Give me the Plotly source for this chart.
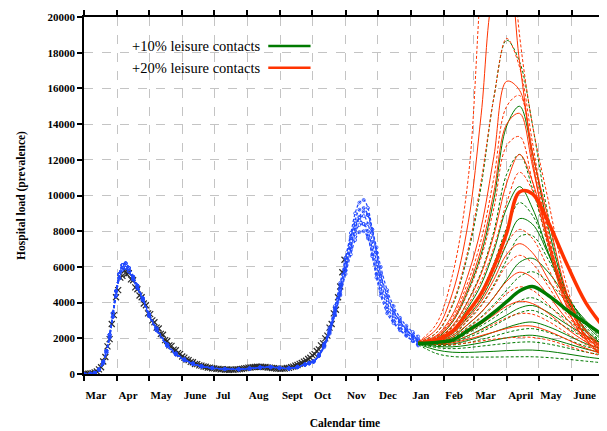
import plotly.graph_objects as go

# ---------------- data ----------------
# days since 1 March 2020
MONTH_TICKS = [0, 31, 61, 92, 122, 153, 184, 214, 245, 275, 306, 337, 365, 396, 426, 457]
MONTH_LABELS = ["Mar", "Apr", "May", "June", "Jul", "Aug", "Sept", "Oct", "Nov", "Dec",
                "Jan", "Feb", "Mar", "April", "May", "June"]
Y_TICKS = [0, 2000, 4000, 6000, 8000, 10000, 12000, 14000, 16000, 18000, 20000]

# observed hospital load (every 2nd day)
BLACK_DAYS = list(range(0, 246, 2))
BLACK_VALS = [0, 10, 15, 30, 45, 90, 140, 260, 380, 700, 950, 1550, 1950, 2800, 3300, 4300,
              4700, 5400, 5500, 5800, 5600, 5650, 5300, 5250, 4850, 4750, 4400, 4300, 3950,
              3850, 3400, 3350, 3000, 2900, 2600, 2550, 2250, 2200, 1900, 1850, 1600, 1580,
              1370, 1330, 1170, 1120, 980, 920, 810, 780, 680, 660, 560, 550, 480, 470, 420,
              405, 360, 355, 320, 315, 290, 290, 260, 270, 245, 250, 235, 245, 240, 255, 255,
              275, 285, 315, 325, 355, 365, 385, 390, 405, 400, 405, 390, 390, 365, 360, 335,
              330, 305, 305, 290, 305, 305, 335, 345, 385, 415, 465, 505, 565, 615, 690, 740,
              840, 910, 1040, 1110, 1290, 1380, 1600, 1720, 2000, 2150, 2600, 2800, 3400, 3600,
              4300, 4900, 5700, 6400]

# model fit ensemble (blue)
BW1_DAYS = [0, 6, 10, 14, 18, 21, 24, 27, 30, 33, 36, 39, 42, 46, 50, 55, 61, 68, 78, 86,
            94, 102, 110, 120, 132, 145, 155, 165, 175, 183, 192, 200, 207, 211]
BW1_HI = [0, 10, 60, 260, 680, 1300, 2200, 3400, 4650, 5600, 6100, 6200, 5950, 5450, 4950,
          4250, 3350, 2550, 1650, 1150, 820, 590, 440, 345, 285, 270, 310, 370, 395, 345, 320,
          400, 540, 620]
BW1_LO = [0, 8, 50, 230, 620, 1200, 2050, 3200, 4400, 5350, 5850, 5950, 5750, 5300, 4800,
          4150, 3250, 2450, 1580, 1100, 780, 560, 420, 330, 270, 255, 295, 350, 375, 330, 305,
          380, 510, 590]
BW2_DAYS = [215, 220, 225, 230, 235, 240, 245, 250, 254, 258, 262, 266, 270, 274, 278, 284,
            290, 296, 302, 308, 313]
BW2 = [
    [700, 1050, 1650, 2500, 3700, 5000, 6500, 7900, 9000, 9600, 9750, 9300, 8100, 6800, 5500, 4300, 3500, 2950, 2500, 2150, 1950],
    [700, 1050, 1600, 2400, 3500, 4700, 6000, 7300, 8200, 8750, 8850, 8400, 7400, 6300, 5200, 4000, 3300, 2850, 2450, 2100, 1850],
    [690, 1020, 1550, 2300, 3300, 4400, 5600, 6700, 7500, 7950, 8000, 7600, 6700, 5600, 4600, 3600, 2950, 2500, 2150, 1850, 1600],
    [700, 1040, 1620, 2450, 3600, 4850, 6250, 7600, 8600, 9200, 9300, 8900, 7900, 6800, 5600, 4400, 3550, 2950, 2500, 2150, 1900],
    [695, 1030, 1580, 2350, 3400, 4550, 5800, 7000, 7850, 8350, 8400, 8000, 7050, 6000, 4900, 3800, 3100, 2650, 2300, 2000, 1750],
    [690, 1000, 1500, 2250, 3300, 4450, 5800, 7100, 8100, 8800, 9100, 8900, 8100, 7100, 6000, 4700, 3800, 3150, 2700, 2350, 2100],
    [710, 1100, 1700, 2600, 3800, 5100, 6500, 7700, 8400, 8600, 8400, 7700, 6600, 5400, 4400, 3400, 2850, 2450, 2150, 1850, 1650],
]

# projections
PROJ_DAYS = [313, 330, 345, 360, 372, 384, 396, 408, 420, 435, 452, 470, 489]
PCTS = [5, 10, 15, 20, 25, 30, 35, 40, 45, 55, 60, 65, 70, 75, 80, 85, 90, 95]
GREEN = [
    [1650, 1150, 980, 950, 945, 950, 958, 965, 965, 920, 830, 720, 610],
    [1680, 1350, 1220, 1210, 1240, 1270, 1310, 1335, 1340, 1270, 1130, 960, 820],
    [1700, 1480, 1420, 1480, 1560, 1640, 1720, 1780, 1795, 1680, 1470, 1230, 1030],
    [1700, 1550, 1520, 1620, 1750, 1890, 2030, 2130, 2170, 2010, 1720, 1400, 1150],
    [1700, 1600, 1620, 1760, 1930, 2120, 2320, 2480, 2540, 2330, 1950, 1550, 1250],
    [1710, 1650, 1680, 1880, 2100, 2350, 2600, 2820, 2910, 2650, 2200, 1700, 1350],
    [1710, 1690, 1760, 2050, 2350, 2700, 3100, 3430, 3560, 3200, 2600, 2000, 1500],
    [1710, 1710, 1800, 2150, 2500, 2900, 3300, 3700, 3840, 3450, 2800, 2150, 1600],
    [1720, 1740, 1850, 2300, 2700, 3150, 3650, 4100, 4270, 3800, 3050, 2350, 1700],
    [1720, 1790, 1980, 2650, 3200, 3900, 4700, 5450, 5730, 5150, 4050, 2950, 2000],
    [1720, 1800, 2050, 2800, 3450, 4300, 5300, 6250, 6480, 5700, 4300, 3000, 1950],
    [1730, 1830, 2150, 3050, 3850, 5000, 6400, 7700, 7750, 6400, 4500, 2900, 1800],
    [1730, 1850, 2250, 3250, 4200, 5600, 7300, 8700, 8400, 6700, 4500, 2800, 1700],
    [1740, 1880, 2350, 3500, 4600, 6200, 8200, 9600, 8900, 6800, 4400, 2650, 1600],
    [1740, 1900, 2450, 3750, 5000, 6900, 9300, 10500, 9300, 6800, 4200, 2500, 1500],
    [1750, 1950, 2650, 4150, 5700, 8000, 11200, 12300, 10400, 7200, 4200, 2400, 1350],
    [1750, 2000, 2900, 4700, 6700, 9800, 13900, 15000, 12400, 8200, 4500, 2400, 1250],
    [1760, 2300, 3800, 6800, 10500, 15500, 18700, 17500, 14000, 8800, 4500, 2200, 1100],
]
GREEN_MED = [1720, 1770, 1900, 2450, 2900, 3450, 4050, 4650, 4900, 4400, 3600, 2850, 2050]
RED = [
    [1750, 1650, 1650, 1750, 1850, 1950, 2020, 2060, 2050, 1900, 1600, 1250, 950],
    [1750, 1700, 1750, 1950, 2150, 2350, 2550, 2680, 2680, 2400, 1950, 1450, 1050],
    [1750, 1720, 1850, 2150, 2450, 2800, 3150, 3380, 3350, 2950, 2300, 1650, 1150],
    [1750, 1750, 1950, 2350, 2800, 3300, 3800, 4070, 3950, 3400, 2550, 1800, 1200],
    [1750, 1780, 2050, 2600, 3150, 3800, 4500, 4880, 4700, 3900, 2850, 1950, 1300],
    [1750, 1800, 2150, 2800, 3450, 4300, 5200, 5700, 5400, 4400, 3100, 2050, 1350],
    [1750, 1830, 2250, 3000, 3800, 4900, 6100, 6650, 6200, 4900, 3350, 2150, 1400],
    [1750, 1850, 2300, 3150, 4050, 5300, 6700, 7300, 6800, 5300, 3550, 2200, 1400],
    [1750, 1870, 2350, 3300, 4250, 5650, 7300, 8100, 7600, 5900, 3900, 2350, 1450],
    [1760, 1950, 2600, 3900, 5200, 7100, 9600, 11300, 10300, 7400, 4500, 2500, 1400],
    [1760, 1980, 2700, 4100, 5600, 7800, 10700, 12300, 10800, 7500, 4400, 2400, 1300],
    [1770, 2050, 2900, 4600, 6500, 9300, 12800, 13300, 10800, 7100, 4000, 2150, 1200],
    [1770, 2080, 3000, 4900, 7000, 10200, 14000, 14600, 11700, 7500, 4100, 2150, 1150],
    [1780, 2100, 3150, 5200, 7500, 11000, 15000, 15600, 12300, 7800, 4200, 2100, 1100],
    [1780, 2150, 3300, 5600, 8200, 12200, 16400, 15900, 12000, 7300, 3800, 1900, 1000],
    [1790, 2300, 3900, 7000, 10800, 15500, 18800, 17200, 13000, 8000, 3900, 1800, 950],
    [1800, 2500, 4500, 8500, 14500, 21500, 23000, 17500, 12500, 8700, 4600, 2000, 850],
    [1800, 2800, 5500, 11000, 22000, 30000, 27000, 19000, 14000, 9700, 5000, 2000, 800],
]
RED_MED = [1750, 1900, 2400, 3500, 4500, 6000, 7900, 10200, 10100, 8500, 6200, 4000, 2450]

LEGEND_LABELS = ["+10% leisure contacts", "+20% leisure contacts"]

# ---------------- styles ----------------
BLUE = "#1f48ff"
GREENC = "#007a00"
REDC = "#ff3300"
SERIF = "Liberation Serif, Times New Roman, serif"

fig = go.Figure()

fig.add_trace(go.Scatter(x=BLACK_DAYS, y=BLACK_VALS, mode="markers",
                         marker=dict(symbol="x-thin", size=6, line=dict(width=1.2, color="#2a2a2a")),
                         showlegend=False, hoverinfo="skip"))

for i, tail in enumerate(BW2):
    head = BW1_HI if i % 2 == 0 else BW1_LO
    fig.add_trace(go.Scatter(x=BW1_DAYS + BW2_DAYS, y=head + tail, mode="lines+markers",
                             line=dict(color=BLUE, width=1.2, dash="3px,2px", shape="spline"),
                             marker=dict(symbol="circle-open", size=3, color=BLUE, line=dict(width=0.8)),
                             showlegend=False, hoverinfo="skip"))

def add_set(vals, color):
    for p, v in zip(PCTS, vals):
        fig.add_trace(go.Scatter(x=PROJ_DAYS, y=v, mode="lines",
                                 line=dict(color=color, width=1,
                                           dash="3px,2px" if p % 10 == 5 else "solid",
                                           shape="spline"),
                                 showlegend=False, hoverinfo="skip"))

add_set(GREEN, GREENC)
add_set(RED, REDC)
fig.add_trace(go.Scatter(x=PROJ_DAYS, y=RED_MED, mode="lines",
                         line=dict(color=REDC, width=3.5, shape="spline"),
                         showlegend=False, hoverinfo="skip"))
fig.add_trace(go.Scatter(x=PROJ_DAYS, y=GREEN_MED, mode="lines",
                         line=dict(color=GREENC, width=3.5, shape="spline"),
                         showlegend=False, hoverinfo="skip"))

# legend (text left of the sample line, gnuplot style)
for k, (lab, col) in enumerate(zip(LEGEND_LABELS, [GREENC, REDC])):
    yp = 0.919 - k * 0.0615
    fig.add_annotation(xref="paper", yref="paper", x=0.342, y=yp, text=lab, showarrow=False,
                       xanchor="right", yanchor="middle",
                       font=dict(family=SERIF, size=14.5, color="black"))
    fig.add_shape(type="line", xref="paper", yref="paper", x0=0.353, x1=0.434, y0=yp, y1=yp,
                  line=dict(color=col, width=2.5))

axis_common = dict(showline=True, linecolor="black", linewidth=1.5, mirror="allticks",
                   ticks="outside", ticklen=5, tickcolor="black", tickwidth=1.5,
                   showgrid=True, gridcolor="#c4c4c4", griddash="dash", gridwidth=1,
                   zeroline=False, automargin=False)

fig.update_xaxes(range=[0, 489], tickvals=MONTH_TICKS, ticktext=MONTH_LABELS,
                 ticklabelposition="outside right", tickangle=0, ticklabelstandoff=10,
                 tickfont=dict(family=SERIF, size=11, color="black", weight="bold"),
                 title=dict(text="Calendar time", font=dict(family=SERIF, size=11.5, color="black", weight="bold"),
                            standoff=19),
                 **axis_common)
fig.update_yaxes(range=[0, 20000], tickvals=Y_TICKS, ticktext=[str(v) for v in Y_TICKS],
                 tickfont=dict(family=SERIF, size=11, color="black", weight="bold"),
                 title=dict(text="Hospital load (prevalence)",
                            font=dict(family=SERIF, size=11.5, color="black", weight="bold"),
                            standoff=20),
                 **axis_common)

# the page body adds an 8px offset, so the figure is sized to end at the window edge
fig.update_layout(width=599, height=423, margin=dict(l=76, r=1, t=9, b=57),
                  paper_bgcolor="white", plot_bgcolor="white")

fig.write_html("out.html")
